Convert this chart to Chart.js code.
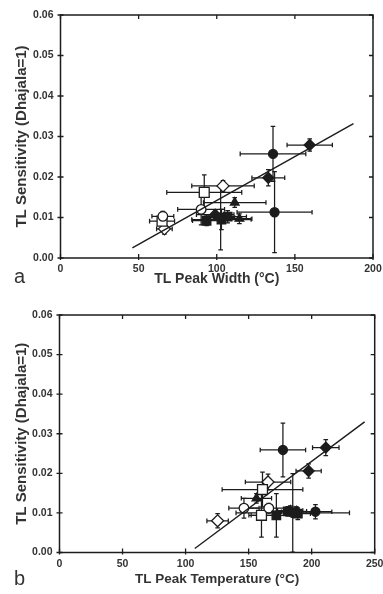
<!DOCTYPE html>
<html><head><meta charset="utf-8">
<script src="https://cdn.jsdelivr.net/npm/chart.js@4.4.0/dist/chart.umd.min.js"></script>
<style>
html,body{margin:0;padding:0;background:#fff;width:383px;height:594px;overflow:hidden;}
.box{position:absolute;left:0;width:383px;}
.lab{position:absolute;font-family:"Liberation Sans",Arial,sans-serif;font-size:20px;line-height:20px;color:#333;}
</style></head><body>
<div class="box" style="top:0;height:300px"><canvas id="ca" width="383" height="300"></canvas></div>
<div class="box" style="top:300px;height:294px"><canvas id="cb" width="383" height="294"></canvas></div>
<div class="lab" style="left:14px;top:266px">a</div>
<div class="lab" style="left:14px;top:568px">b</div>
<script>
// ---------- Chart a: TL Peak Width ----------
const aXTicks = [0, 50, 100, 150, 200];
const yTicks = [0, 0.01, 0.02, 0.03, 0.04, 0.05, 0.06];

const aFilledCircleX = [136, 137, 102.5];
const aFilledCircleY = [0.0257, 0.0113, 0.0100];
const aFilledCircleXErr = [21, 24, 9];
const aFilledCircleYErr = [0.0068, 0.0100, 0.0080];

const aFilledDiamondX = [159.5, 133, 99];
const aFilledDiamondY = [0.0279, 0.0198, 0.0107];
const aFilledDiamondXErr = [14.5, 10.5, 12];
const aFilledDiamondYErr = [0.0015, 0.0020, 0.0012];

const aFilledTriangleX = [111.5, 114.5];
const aFilledTriangleY = [0.0137, 0.0097];
const aFilledTriangleXErr = [20, 8];
const aFilledTriangleYErr = [0.0012, 0.0012];

const aFilledSquareX = [93.5, 103, 107];
const aFilledSquareY = [0.0092, 0.0095, 0.0102];
const aFilledSquareXErr = [9, 19, 12];
const aFilledSquareYErr = [0.0012, 0.0025, 0.0015];

const aOpenCircleX = [90, 65.5];
const aOpenCircleY = [0.0120, 0.0103];
const aOpenCircleXErr = [15, 7];
const aOpenCircleYErr = [0.0038, 0.0012];

const aOpenSquareX = [92, 65];
const aOpenSquareY = [0.0162, 0.0091];
const aOpenSquareXErr = [24, 8];
const aOpenSquareYErr = [0.0043, 0.0010];

const aOpenDiamondX = [104, 66.5];
const aOpenDiamondY = [0.0178, 0.0072];
const aOpenDiamondXErr = [20, 5];
const aOpenDiamondYErr = [0.0013, 0.0013];

const aFitX = [46, 187.5];
const aFitY = [0.0025, 0.0332];

// ---------- Chart b: TL Peak Temperature ----------
const bXTicks = [0, 50, 100, 150, 200, 250];

const bFilledCircleX = [177.2, 185, 203];
const bFilledCircleY = [0.0259, 0.0100, 0.0103];
const bFilledCircleXErr = [18, 45, 13];
const bFilledCircleYErr = [0.0068, 0.0099, 0.0018];

const bFilledDiamondX = [211.2, 197.6, 188];
const bFilledDiamondY = [0.0265, 0.0206, 0.0103];
const bFilledDiamondXErr = [10.5, 10, 12];
const bFilledDiamondYErr = [0.0020, 0.0018, 0.0012];

const bFilledTriangleX = [156.2, 183];
const bFilledTriangleY = [0.0137, 0.0106];
const bFilledTriangleXErr = [12, 10];
const bFilledTriangleYErr = [0.0012, 0.0012];

const bFilledSquareX = [172, 181, 189];
const bFilledSquareY = [0.0094, 0.0104, 0.0098];
const bFilledSquareXErr = [20, 15, 10];
const bFilledSquareYErr = [0.0055, 0.0012, 0.0015];

const bOpenCircleX = [146.3, 166];
const bOpenCircleY = [0.0112, 0.0112];
const bOpenCircleXErr = [12, 20];
const bOpenCircleYErr = [0.0025, 0.0012];

const bOpenSquareX = [161, 160.2];
const bOpenSquareY = [0.0159, 0.0094];
const bOpenSquareXErr = [32, 10];
const bOpenSquareYErr = [0.0044, 0.0055];

const bOpenDiamondX = [165.4, 125.4];
const bOpenDiamondY = [0.0178, 0.0080];
const bOpenDiamondXErr = [18, 8.5];
const bOpenDiamondYErr = [0.0020, 0.0018];

const bFitX = [107.3, 242];
const bFitY = [0.001, 0.033];

// ---------- helpers ----------
const INK = '#1c1c1c';
const TXT = '#333333';

function pts(xs, ys){ return xs.map((x,i)=>({x:x, y:ys[i]})); }

function markerSet(xs, ys, xe, ye, style, radius, filled){
  return {
    type:'scatter',
    data: pts(xs, ys),
    errX: xe, errY: ye,
    pointStyle: style,
    pointRadius: radius,
    pointHoverRadius: radius,
    pointBackgroundColor: filled ? INK : '#ffffff',
    pointBorderColor: INK,
    pointBorderWidth: 1.3,
    showLine:false
  };
}

function fitSet(xs, ys){
  return {
    type:'line',
    data: pts(xs, ys),
    borderColor: INK,
    borderWidth: 1.4,
    pointRadius: 0,
    fill:false,
    tension:0
  };
}

const errorBarPlugin = {
  id:'errbars',
  beforeDatasetsDraw(chart){
    const {ctx} = chart;
    const x = chart.scales.x, y = chart.scales.y;
    const cap = 2.3;
    ctx.save();
    ctx.strokeStyle = INK;
    ctx.lineWidth = 1.25;
    chart.data.datasets.forEach(ds=>{
      if(!ds.errX) return;
      ds.data.forEach((p,i)=>{
        const px = x.getPixelForValue(p.x), py = y.getPixelForValue(p.y);
        const x1 = x.getPixelForValue(p.x - ds.errX[i]), x2 = x.getPixelForValue(p.x + ds.errX[i]);
        const y1 = y.getPixelForValue(p.y - ds.errY[i]), y2 = y.getPixelForValue(p.y + ds.errY[i]);
        ctx.beginPath();
        ctx.moveTo(x1, py); ctx.lineTo(x2, py);
        ctx.moveTo(x1, py-cap); ctx.lineTo(x1, py+cap);
        ctx.moveTo(x2, py-cap); ctx.lineTo(x2, py+cap);
        ctx.moveTo(px, y1); ctx.lineTo(px, y2);
        ctx.moveTo(px-cap, y1); ctx.lineTo(px+cap, y1);
        ctx.moveTo(px-cap, y2); ctx.lineTo(px+cap, y2);
        ctx.stroke();
      });
    });
    ctx.restore();
  }
};

const framePlugin = {
  id:'frame',
  afterDraw(chart){
    const {ctx, chartArea:a} = chart;
    const x = chart.scales.x, y = chart.scales.y;
    ctx.save();
    ctx.strokeStyle = INK;
    ctx.lineWidth = 1.5;
    ctx.strokeRect(a.left, a.top, a.right - a.left, a.bottom - a.top);
    ctx.lineWidth = 1.3;
    ctx.beginPath();
    x.ticks.forEach(t=>{
      const px = x.getPixelForValue(t.value);
      ctx.moveTo(px, a.bottom + 2); ctx.lineTo(px, a.bottom - 4);
      ctx.moveTo(px, a.top); ctx.lineTo(px, a.top + 4);
    });
    y.ticks.forEach(t=>{
      const py = y.getPixelForValue(t.value);
      ctx.moveTo(a.left - 3, py); ctx.lineTo(a.left + 3, py);
      ctx.moveTo(a.right, py); ctx.lineTo(a.right - 4, py);
    });
    ctx.stroke();
    ctx.restore();
  }
};

function makeChart(id, cfg){
  const datasets = [
    markerSet(cfg.fcX, cfg.fcY, cfg.fcXE, cfg.fcYE, 'circle', 4.5, true),
    markerSet(cfg.fdX, cfg.fdY, cfg.fdXE, cfg.fdYE, 'rectRot', 5.5, true),
    markerSet(cfg.ftX, cfg.ftY, cfg.ftXE, cfg.ftYE, 'triangle', 5, true),
    markerSet(cfg.fsX, cfg.fsY, cfg.fsXE, cfg.fsYE, 'rect', 6, true),
    fitSet(cfg.fitX, cfg.fitY),
    markerSet(cfg.ocX, cfg.ocY, cfg.ocXE, cfg.ocYE, 'circle', 4.8, false),
    markerSet(cfg.osX, cfg.osY, cfg.osXE, cfg.osYE, 'rect', 7, false),
    markerSet(cfg.odX, cfg.odY, cfg.odXE, cfg.odYE, 'rectRot', 6, false)
  ];
  return new Chart(document.getElementById(id), {
    type:'scatter',
    data:{datasets},
    plugins:[errorBarPlugin, framePlugin],
    options:{
      responsive:false,
      animation:false,
      events:[],
      layout:{padding:{left:0, right:cfg.padRight, top:15, bottom:0}},
      plugins:{legend:{display:false}, tooltip:{enabled:false}},
      scales:{
        x:{
          type:'linear',
          min:cfg.xTicks[0], max:cfg.xTicks[cfg.xTicks.length-1],
          afterBuildTicks(s){ s.ticks = cfg.xTicks.map(v=>({value:v})); },
          grid:{display:false, drawTicks:false},
          border:{display:false},
          ticks:{padding:5, color:TXT, font:{family:'"Liberation Sans", Arial', size:10.5, weight:'bold'}, callback:v=>String(v), maxRotation:0, autoSkip:false},
          title:{display:true, text:cfg.xTitle, color:TXT, font:{family:'"Liberation Sans", Arial', size:cfg.xTitleSize, weight:'bold'}, padding:{top:0, bottom:cfg.xTitlePad}},
          afterFit(s){ s.height = cfg.xHeight; s.paddingLeft = 0; s.paddingRight = 0; }
        },
        y:{
          type:'linear',
          min:0, max:0.06,
          afterBuildTicks(s){ s.ticks = yTicks.map(v=>({value:v})); },
          grid:{display:false, drawTicks:false},
          border:{display:false},
          ticks:{padding:7, color:TXT, font:{family:'"Liberation Sans", Arial', size:10.5, weight:'bold'}, callback:v=>Number(v).toFixed(2), autoSkip:false},
          title:{display:true, text:'TL Sensitivity (Dhajala=1)', color:TXT, font:{family:'"Liberation Sans", Arial', size:15, weight:'bold'}, padding:{top:12.5, bottom:0}},
          afterFit(s){ s.width = cfg.yWidth; s.paddingTop = 0; s.paddingBottom = 0; }
        }
      }
    }
  });
}

makeChart('ca', {
  xTicks:aXTicks, xTitle:'TL Peak Width (\u00B0C)', xTitleSize:14, xTitlePad:12.5, xHeight:42, yWidth:60.5, padRight:10,
  fcX:aFilledCircleX, fcY:aFilledCircleY, fcXE:aFilledCircleXErr, fcYE:aFilledCircleYErr,
  fdX:aFilledDiamondX, fdY:aFilledDiamondY, fdXE:aFilledDiamondXErr, fdYE:aFilledDiamondYErr,
  ftX:aFilledTriangleX, ftY:aFilledTriangleY, ftXE:aFilledTriangleXErr, ftYE:aFilledTriangleYErr,
  fsX:aFilledSquareX, fsY:aFilledSquareY, fsXE:aFilledSquareXErr, fsYE:aFilledSquareYErr,
  ocX:aOpenCircleX, ocY:aOpenCircleY, ocXE:aOpenCircleXErr, ocYE:aOpenCircleYErr,
  osX:aOpenSquareX, osY:aOpenSquareY, osXE:aOpenSquareXErr, osYE:aOpenSquareYErr,
  odX:aOpenDiamondX, odY:aOpenDiamondY, odXE:aOpenDiamondXErr, odYE:aOpenDiamondYErr,
  fitX:aFitX, fitY:aFitY
});

makeChart('cb', {
  xTicks:bXTicks, xTitle:'TL Peak Temperature (\u00B0C)', xTitleSize:13.5, xTitlePad:7, xHeight:41.5, yWidth:59.5, padRight:5.5,
  fcX:bFilledCircleX, fcY:bFilledCircleY, fcXE:bFilledCircleXErr, fcYE:bFilledCircleYErr,
  fdX:bFilledDiamondX, fdY:bFilledDiamondY, fdXE:bFilledDiamondXErr, fdYE:bFilledDiamondYErr,
  ftX:bFilledTriangleX, ftY:bFilledTriangleY, ftXE:bFilledTriangleXErr, ftYE:bFilledTriangleYErr,
  fsX:bFilledSquareX, fsY:bFilledSquareY, fsXE:bFilledSquareXErr, fsYE:bFilledSquareYErr,
  ocX:bOpenCircleX, ocY:bOpenCircleY, ocXE:bOpenCircleXErr, ocYE:bOpenCircleYErr,
  osX:bOpenSquareX, osY:bOpenSquareY, osXE:bOpenSquareXErr, osYE:bOpenSquareYErr,
  odX:bOpenDiamondX, odY:bOpenDiamondY, odXE:bOpenDiamondXErr, odYE:bOpenDiamondYErr,
  fitX:bFitX, fitY:bFitY
});
</script>
</body></html>
